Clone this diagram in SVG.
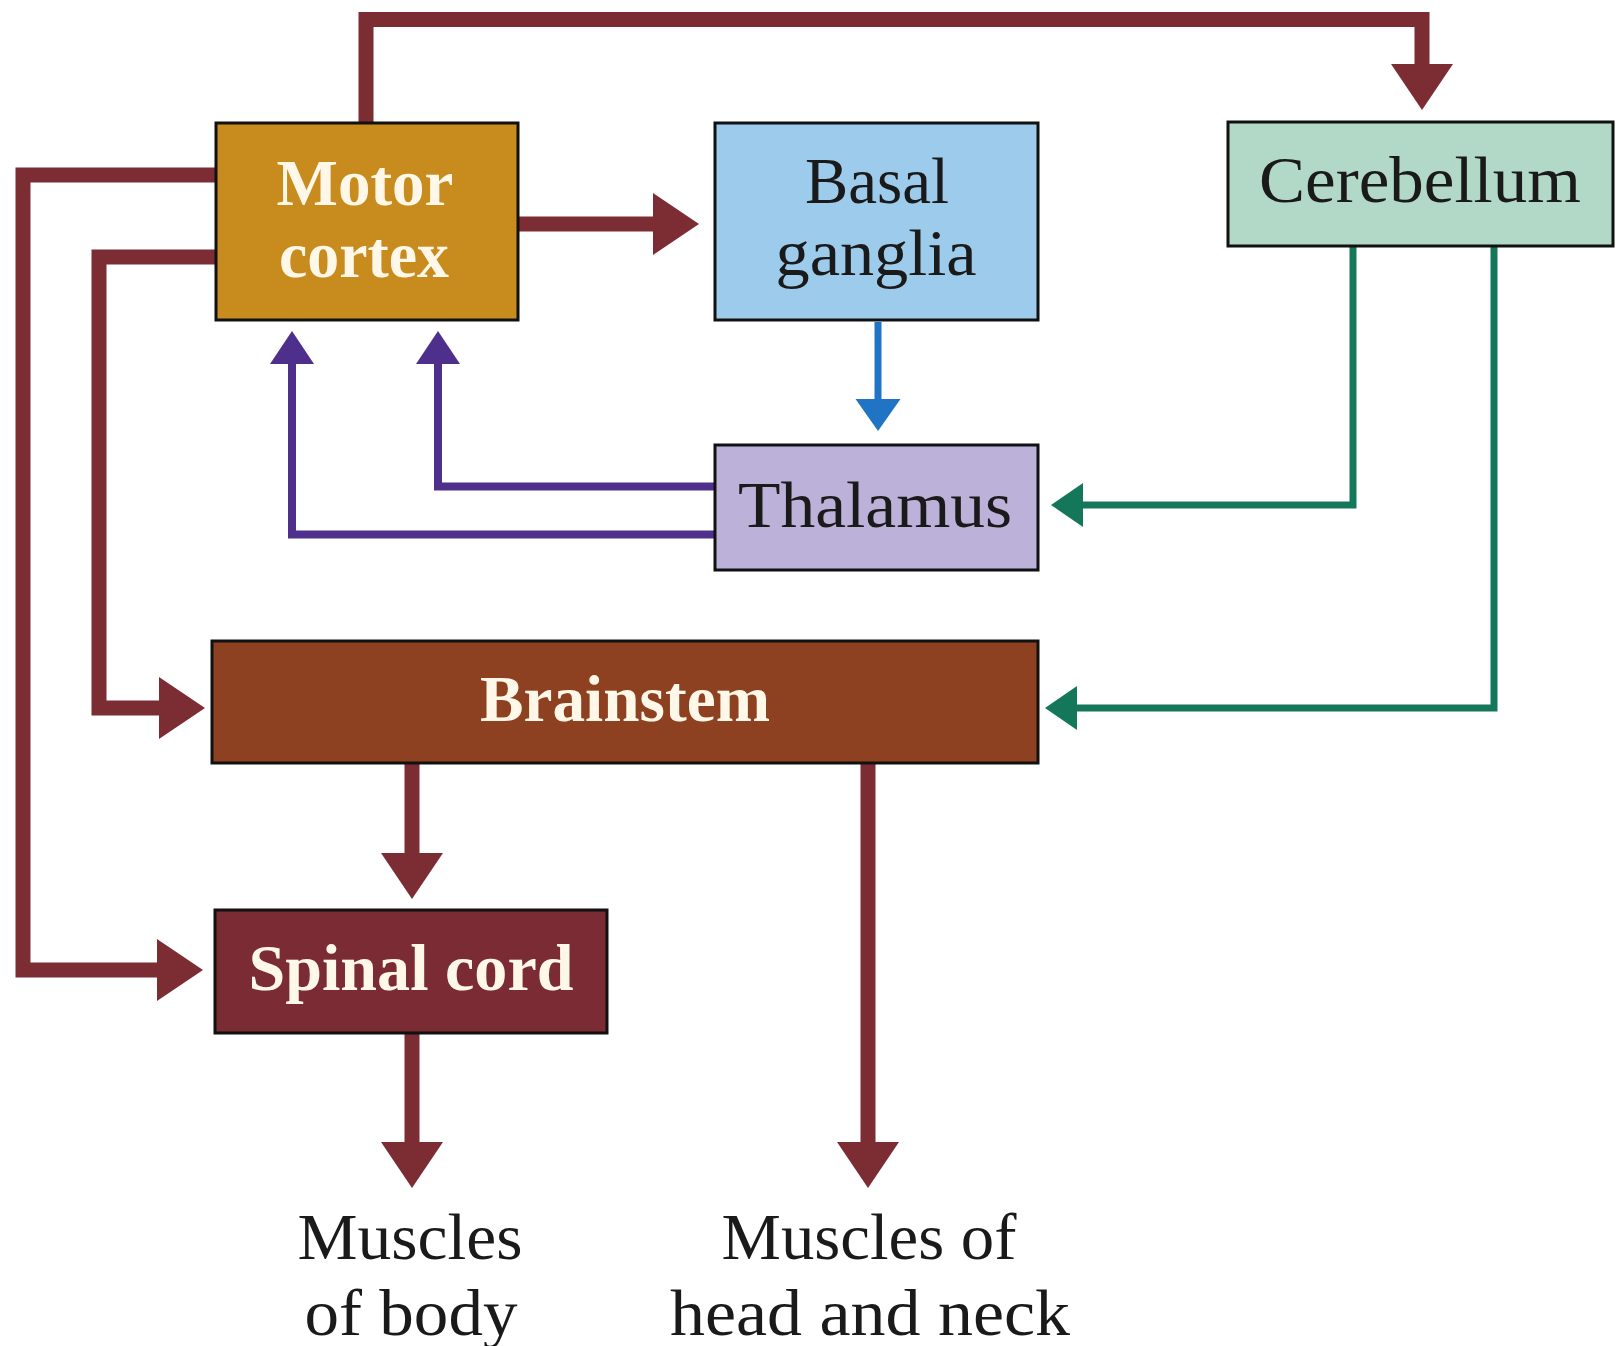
<svg xmlns="http://www.w3.org/2000/svg" width="1616" height="1346" viewBox="0 0 1616 1346">
  <style>
    .box { stroke: #111; stroke-width: 3; }
    .lbl { font-family: "Liberation Serif", "DejaVu Serif", serif; font-size: 65px; text-anchor: middle; }
    .dark { fill: #1a1a1a; }
    .light { fill: #fff8e8; font-weight: bold; }
    .maroon { fill: none; stroke: #7c2d34; stroke-width: 15; stroke-linejoin: miter; }
    .purple { fill: none; stroke: #4e2f8c; stroke-width: 8; stroke-linejoin: miter; }
    .blue { fill: none; stroke: #1f74c4; stroke-width: 7; }
    .green { fill: none; stroke: #14775a; stroke-width: 7; stroke-linejoin: miter; }
  </style>
  <defs>
    <marker id="ah-maroon" markerUnits="userSpaceOnUse" viewBox="-1 -32 48 64" markerWidth="48" markerHeight="64" refX="1" refY="0" orient="auto" overflow="visible">
      <path d="M0,-31 L46,0 L0,31 Z" fill="#7c2d34"/>
    </marker>
    <marker id="ah-purple" markerUnits="userSpaceOnUse" viewBox="-1 -23 35 46" markerWidth="35" markerHeight="46" refX="1" refY="0" orient="auto" overflow="visible">
      <path d="M0,-22 L33,0 L0,22 Z" fill="#4e2f8c"/>
    </marker>
    <marker id="ah-blue" markerUnits="userSpaceOnUse" viewBox="-1 -23 35 46" markerWidth="35" markerHeight="46" refX="1" refY="0" orient="auto" overflow="visible">
      <path d="M0,-22.5 L32,0 L0,22.5 Z" fill="#1f74c4"/>
    </marker>
    <marker id="ah-green" markerUnits="userSpaceOnUse" viewBox="-1 -23 35 46" markerWidth="35" markerHeight="46" refX="1" refY="0" orient="auto" overflow="visible">
      <path d="M0,-22 L32,0 L0,22 Z" fill="#14775a"/>
    </marker>
  </defs>

  <rect width="1616" height="1346" fill="#ffffff"/>

  <!-- connectors -->
  <g id="connectors">
    <path class="maroon" d="M366,124 V19.5 H1422 V65" marker-end="url(#ah-maroon)"/>
    <path class="maroon" d="M518,224 H654" marker-end="url(#ah-maroon)"/>
    <path class="maroon" d="M217,175 H23 V970 H158" marker-end="url(#ah-maroon)"/>
    <path class="maroon" d="M217,257 H99 V708 H160" marker-end="url(#ah-maroon)"/>
    <path class="blue" d="M878,322 V400" marker-end="url(#ah-blue)"/>
    <path class="purple" d="M715,486.5 H438 V363" marker-end="url(#ah-purple)"/>
    <path class="purple" d="M715,534.5 H292 V363" marker-end="url(#ah-purple)"/>
    <path class="green" d="M1353,247 V505 H1082" marker-end="url(#ah-green)"/>
    <path class="green" d="M1494,247 V708 H1076" marker-end="url(#ah-green)"/>
    <path class="maroon" d="M412,764 V854" marker-end="url(#ah-maroon)"/>
    <path class="maroon" d="M412,1034 V1143" marker-end="url(#ah-maroon)"/>
    <path class="maroon" d="M868,764 V1143" marker-end="url(#ah-maroon)"/>
  </g>

  <!-- nodes -->
  <g id="motor-cortex">
    <rect class="box" x="216" y="123" width="302" height="197" fill="#c88b1e"/>
    <text class="lbl light" x="365" y="205" textLength="177" lengthAdjust="spacingAndGlyphs">Motor</text>
    <text class="lbl light" x="364" y="277" textLength="170" lengthAdjust="spacingAndGlyphs">cortex</text>
  </g>
  <g id="basal-ganglia">
    <rect class="box" x="715" y="123" width="323" height="197" fill="#9dcbec"/>
    <text class="lbl dark" x="877" y="203" textLength="144" lengthAdjust="spacingAndGlyphs">Basal</text>
    <text class="lbl dark" x="876" y="275" textLength="201" lengthAdjust="spacingAndGlyphs">ganglia</text>
  </g>
  <g id="cerebellum">
    <rect class="box" x="1228" y="122" width="385" height="124" fill="#b2d8c7"/>
    <text class="lbl dark" x="1420" y="202" textLength="322" lengthAdjust="spacingAndGlyphs">Cerebellum</text>
  </g>
  <g id="thalamus">
    <rect class="box" x="715" y="445" width="323" height="125" fill="#bcb1d9"/>
    <text class="lbl dark" x="875" y="527" textLength="274" lengthAdjust="spacingAndGlyphs">Thalamus</text>
  </g>
  <g id="brainstem">
    <rect class="box" x="212" y="641" width="826" height="122" fill="#8d4121"/>
    <text class="lbl light" x="625" y="721" textLength="290" lengthAdjust="spacingAndGlyphs">Brainstem</text>
  </g>
  <g id="spinal-cord">
    <rect class="box" x="215" y="910" width="392" height="123" fill="#7b2b33"/>
    <text class="lbl light" x="411" y="990" textLength="325" lengthAdjust="spacingAndGlyphs">Spinal cord</text>
  </g>
  <g id="muscles-body">
    <text class="lbl dark" x="410" y="1259" textLength="225" lengthAdjust="spacingAndGlyphs">Muscles</text>
    <text class="lbl dark" x="411" y="1335" textLength="213" lengthAdjust="spacingAndGlyphs">of body</text>
  </g>
  <g id="muscles-head-neck">
    <text class="lbl dark" x="869" y="1259" textLength="295" lengthAdjust="spacingAndGlyphs">Muscles of</text>
    <text class="lbl dark" x="870" y="1335" textLength="400" lengthAdjust="spacingAndGlyphs">head and neck</text>
  </g>
</svg>
